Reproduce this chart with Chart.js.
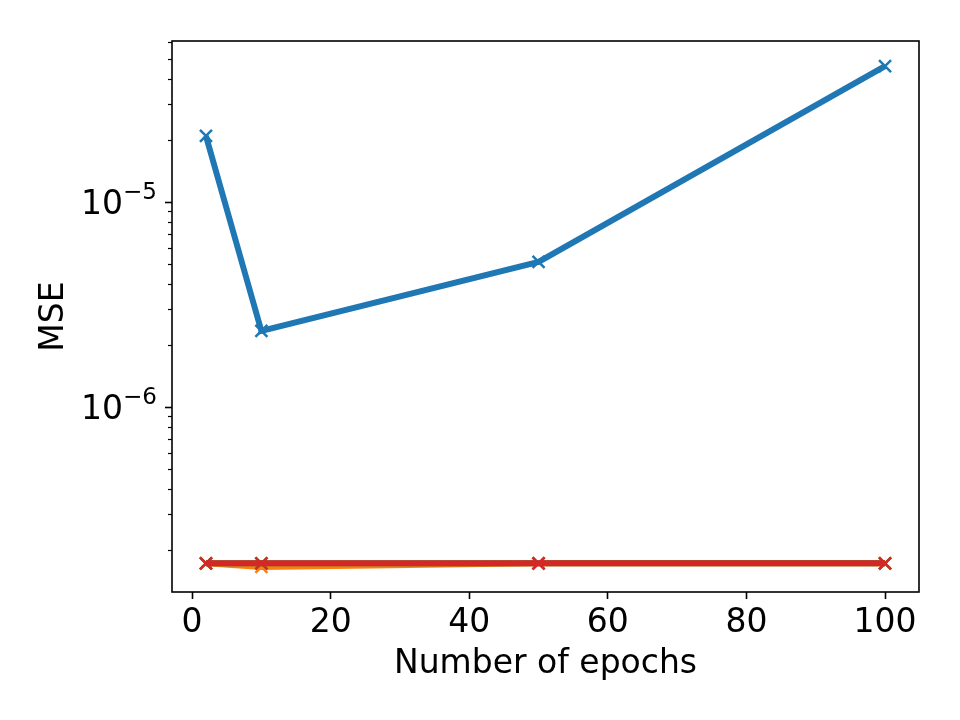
<!DOCTYPE html>
<html>
<head>
<meta charset="utf-8">
<script src="https://cdn.jsdelivr.net/npm/chart.js@4/dist/chart.umd.min.js"></script>
<style>
  html, body { margin: 0; background: #fff; }
</style>
</head>
<body>
<canvas id="chart" width="960" height="720"></canvas>
<script>
// values
const epochs = [2, 10, 50, 100];
const mseBlue = [2.1e-5, 2.35e-6, 5.1e-6, 4.6e-5];
const mseOrange = [1.73e-7, 1.66e-7, 1.73e-7, 1.73e-7];
const mseGreen = [1.73e-7, 1.73e-7, 1.73e-7, 1.73e-7];
const mseRed = [1.73e-7, 1.73e-7, 1.73e-7, 1.73e-7];
const xTicks = [0, 20, 40, 60, 80, 100];
const yDecades = [-6, -5];
const xLimits = [-2.9, 104.9];
const yLimits = [1.253e-7, 6.1e-5];

const FONT = "'DejaVu Sans', sans-serif";
const toPoints = ys => ys.map((y, i) => ({ x: epochs[i], y }));

function series(label, values, color, order) {
    return {
        label,
        data: toPoints(values),
        borderColor: color,
        backgroundColor: color,
        borderWidth: 6,
        pointStyle: "crossRot",
        pointRadius: 8.5,
        pointBorderWidth: 2.5,
        pointBorderColor: color,
        tension: 0,
        order
    };
}

// frame, minor log ticks and 10^n labels, drawn like matplotlib
const axesDecor = {
    id: "axesDecor",
    afterDraw(chart) {
        const { ctx, chartArea: a } = chart;
        const y = chart.scales.y;
        ctx.save();
        ctx.strokeStyle = "#000";
        ctx.lineWidth = 1.2;
        for (let e = -8; e <= -4; e++) {
            for (let m = 2; m <= 9; m++) {
                const v = m * Math.pow(10, e);
                if (v < yLimits[0] || v > yLimits[1]) continue;
                const py = Math.round(y.getPixelForValue(v)) + 0.5;
                ctx.beginPath();
                ctx.moveTo(a.left - 4, py);
                ctx.lineTo(a.left, py);
                ctx.stroke();
            }
        }
        ctx.fillStyle = "#000";
        ctx.textBaseline = "alphabetic";
        yDecades.forEach(e => {
            const py = y.getPixelForValue(Math.pow(10, e));
            const exp = "\u2212" + Math.abs(e);
            ctx.font = "23px " + FONT;
            const wExp = ctx.measureText(exp).width;
            const right = a.left - 15;
            ctx.textAlign = "right";
            ctx.fillText(exp, right, py - 3);
            ctx.font = "33px " + FONT;
            ctx.fillText("10", right - wExp, py + 12);
        });
        ctx.lineWidth = 1.6;
        ctx.strokeRect(a.left, a.top, a.right - a.left, a.bottom - a.top);
        ctx.restore();
    }
};

new Chart(document.getElementById("chart"), {
    type: "line",
    data: {
        datasets: [
            series("blue", mseBlue, "#1f77b4", 3),
            series("orange", mseOrange, "#ff7f0e", 2),
            series("green", mseGreen, "#2ca02c", 1),
            series("red", mseRed, "#d62728", 0)
        ]
    },
    plugins: [axesDecor],
    options: {
        responsive: false,
        animation: false,
        devicePixelRatio: 1,
        layout: { padding: { left: 0, top: 41, right: 41, bottom: 0 } },
        plugins: { legend: { display: false }, tooltip: { enabled: false } },
        scales: {
            x: {
                type: "linear",
                min: xLimits[0],
                max: xLimits[1],
                afterBuildTicks: s => { s.ticks = xTicks.map(value => ({ value })); },
                afterFit: s => { s.height = 128; },
                border: { display: false },
                grid: { drawOnChartArea: false, tickLength: 7, tickWidth: 1.6, tickColor: "#000" },
                ticks: {
                    color: "#000",
                    font: { family: FONT, size: 33 },
                    padding: 5,
                    maxRotation: 0,
                    autoSkip: false
                },
                title: {
                    display: true,
                    text: "Number of epochs",
                    color: "#000",
                    font: { family: FONT, size: 33 },
                    padding: { top: 0, bottom: 36 }
                }
            },
            y: {
                type: "logarithmic",
                min: yLimits[0],
                max: yLimits[1],
                afterBuildTicks: s => { s.ticks = yDecades.map(e => ({ value: Math.pow(10, e) })); },
                afterFit: s => { s.width = 172; },
                border: { display: false },
                grid: { drawOnChartArea: false, tickLength: 7, tickWidth: 1.6, tickColor: "#000" },
                ticks: { display: false },
                title: {
                    display: true,
                    text: "MSE",
                    color: "#000",
                    font: { family: FONT, size: 33 },
                    padding: { top: 35, bottom: 0 }
                }
            }
        }
    }
});
</script>
</body>
</html>
